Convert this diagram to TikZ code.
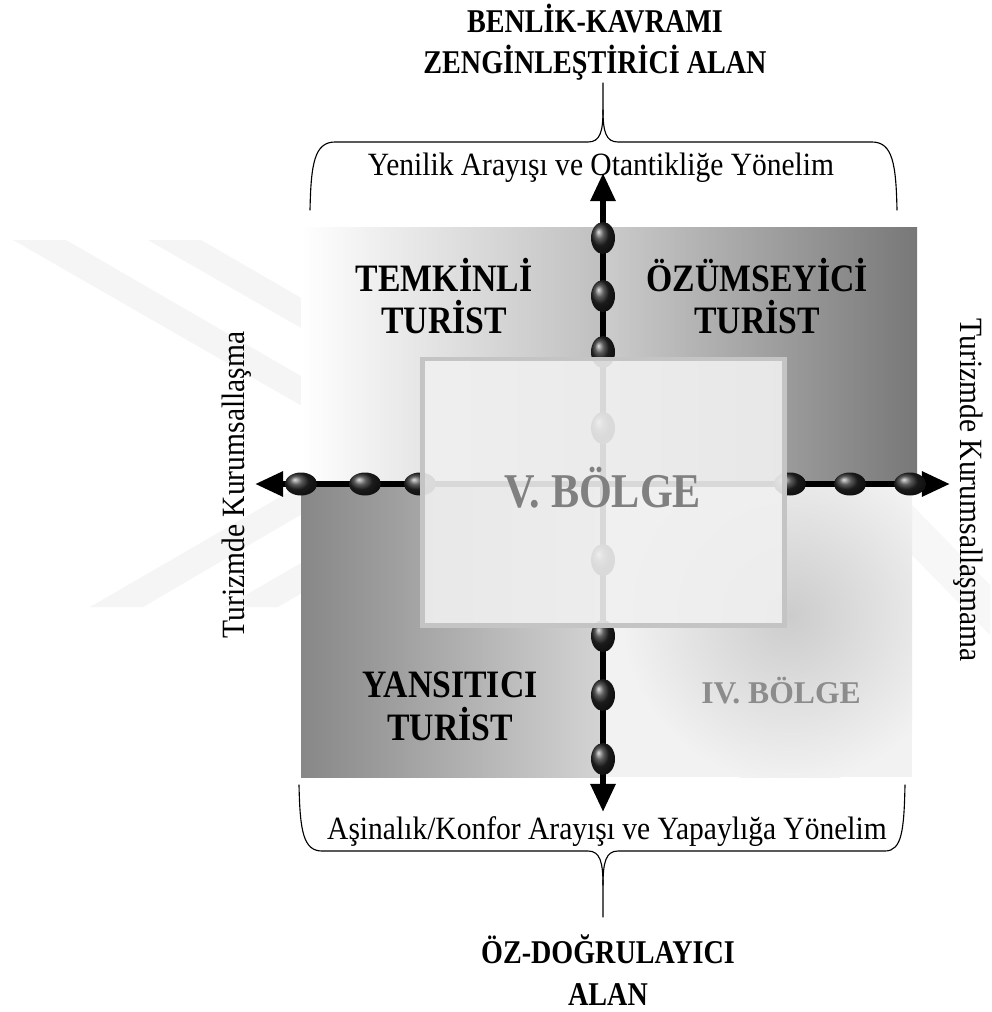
\documentclass[tikz,border=0pt]{standalone}
\usepackage{fontspec}
\setmainfont{Liberation Serif}
\usetikzlibrary{arrows.meta,positioning,shadings}

\begin{document}
\begin{tikzpicture}[
            x=0.025cm, y=-0.025cm,
            pole/.style={align=center, yscale=1.18, font=\fontsize{20}{25}\selectfont\bfseries},
            region/.style={align=center, yscale=1.15, font=\fontsize{24}{26.5}\selectfont\bfseries},
            side/.style={font=\fontsize{21}{25}\selectfont},
            zonetext/.style={font=\bfseries, text=black!50},
            bead/.style={ball color=black!85},
            axisline/.style={line width=4.5pt, {Triangle[length=20pt,width=17pt]}-{Triangle[length=20pt,width=17pt]}},
            brace/.style={thick, line cap=round},
        ]
            \useasboundingbox (0,0) rectangle (992,1012);
            \fill[white] (0,0) rectangle (992,1012);

            % faint watermark
            \fill[black!4] (13,240) -- (66,240) -- (420,445) -- (143,607) -- (90,607) -- (370,445) -- cycle;
            \fill[black!4] (148,240) -- (201,240) -- (555,445) -- (278,607) -- (225,607) -- (505,445) -- cycle;
            \fill[black!3] (912,505) -- (990,585) -- (990,635) -- (912,555) -- cycle;

            % quadrants
            \shade[left color=white, right color=black!25] (301,227) rectangle (603,484);
            \shade[left color=black!20, right color=black!53] (603,227) rectangle (917,484);
            \shade[left color=black!47, right color=black!17] (301,484) rectangle (603,777);
            \begin{scope}
                \clip (603,484) rectangle (912,777);
                \fill[black!5] (603,484) rectangle (912,777);
                \shade[inner color=black!20, outer color=black!5] (790,615) circle (170);
            \end{scope}

            % axes
            \coordinate (north) at (603,173);
            \coordinate (south) at (603,812);
            \coordinate (west) at (255,484);
            \coordinate (east) at (950,484);
            \draw[axisline] (south) -- (north);
            \draw[axisline] (west) -- (east);
            \foreach \y in {238,296,352,428,560,636,695,759}
                \shade[bead] (603,\y) ellipse [x radius=12, y radius=16];
            \foreach \x in {301,365,420,790,850,910}
                \shade[bead] (\x,484) ellipse [x radius=16, y radius=11.5];

            % center zone
            \node[draw=black!23, line width=3.5pt, fill=black!6, fill opacity=.9, draw opacity=1,
                minimum width=9.03cm, minimum height=6.65cm] (zone5box) at (603.5,492) {};
            \node[zonetext, yscale=1.15, font=\fontsize{30}{34}\selectfont\bfseries] (zone5) at (603,488) {V. BÖLGE};
            \node[zonetext, font=\fontsize{22.5}{26}\selectfont\bfseries, text=black!45] (zone4) at (781,691) {IV. BÖLGE};

            \node[region] (cautious) at (444,296) {TEMKİNLİ\\TURİST};
            \node[region] (assimilating) at (757,296) {ÖZÜMSEYİCİ\\TURİST};
            \node[region] (reflective) at (450,706) {YANSITICI\\TURİST};

            % side labels
            \node[side, rotate=90, yscale=1.1] (inst) at (237,485) {Turizmde Kurumsallaşma};
            \node[side, rotate=-90, yscale=1.1] (noninst) at (968,490) {Turizmde Kurumsallaşmama};

            % braces and poles
            \node[pole] (enriching) at (595,42) {BENLİK-KAVRAMI\\ZENGİNLEŞTİRİCİ ALAN};
            \node[side, yscale=1.1] (novelty) at (601,168) {Yenilik Arayışı ve Otantikliğe Yönelim};
            \draw[brace] (310,210) .. controls (311,165) and (314,142) .. (335,142) -- (588,142)
                .. controls (600,142) and (603,132) .. (603,110) -- (603,83);
            \draw[brace] (603,110) .. controls (603,132) and (606,142) .. (618,142) -- (872,142)
                .. controls (893,142) and (896,165) .. (897,210);

            \node[side, yscale=1.1] (familiar) at (607,832) {Aşinalık/Konfor Arayışı ve Yapaylığa Yönelim};
            \draw[brace] (299,785) .. controls (300,830) and (303,851) .. (322,851) -- (588,851)
                .. controls (600,851) and (603,862) .. (603,885) -- (603,917);
            \draw[brace] (603,885) .. controls (603,862) and (606,851) .. (618,851) -- (885,851)
                .. controls (902,851) and (904,830) .. (905,785);
            \node[pole] (verifying) at (608,970) {ÖZ-DOĞRULAYICI\\ALAN};

        \end{tikzpicture}
\end{document}
